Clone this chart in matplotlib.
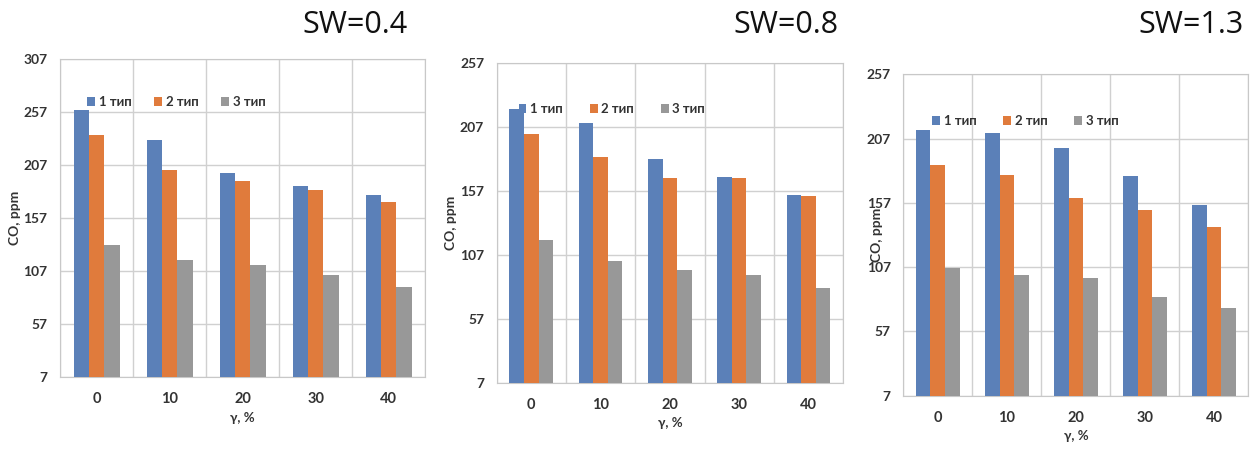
import matplotlib.pyplot as plt
import numpy as np

gamma = ["0", "10", "20", "30", "40"]
types = ["1 тип", "2 тип", "3 тип"]
titles = ["SW=0.4", "SW=0.8", "SW=1.3"]

# CO, ppm per panel: rows = тип 1..3, columns = gamma
sw04 = [[259, 231, 199.5, 187.5, 178.5],
        [235.5, 202.5, 192, 183, 172.5],
        [132, 117, 112.5, 103.5, 91.5]]
sw08 = [[221, 209.5, 181.5, 167.5, 153.5],
        [201, 183, 166.5, 166.5, 152.5],
        [118.5, 102, 95, 91, 81]]
sw13 = [[214, 211.5, 199.5, 177.5, 155],
        [186, 178.5, 161, 151, 138.5],
        [106, 100.5, 98.5, 83.5, 75]]
data = [sw04, sw08, sw13]
ytop = [307, 257, 257]

colors = ["#5B80B8", "#E07B3C", "#989898"]

plt.rcParams['font.family'] = ['Lato', 'DejaVu Sans']

fig = plt.figure(figsize=(12.51, 4.5), dpi=100)
# axes boxes [left, bottom, width, height]
boxes = [[0.048, 0.162, 0.292, 0.707],
         [0.397, 0.150, 0.277, 0.711],
         [0.722, 0.121, 0.276, 0.714]]
leg_pos = [(0.041, 0.865), (0.029, 0.855), (0.049, 0.853)]
colspace = [1.7, 2.0, 2.0]
ylabpad = [2, 2, -12]
title_x = [0.284, 0.628, 0.952]

x = np.arange(len(gamma))
w = 0.21
for k in range(3):
    ax = fig.add_axes(boxes[k])
    for i in range(3):
        ax.bar(x + (i - 1) * w, data[k][i], w, bottom=0, color=colors[i],
               label=types[i], zorder=3)
    ax.set_xlim(-0.5, 4.5)
    ax.set_ylim(7, ytop[k])
    ax.set_yticks(np.arange(7, ytop[k] + 1, 50))
    ax.set_xticks(x)
    ax.set_xticklabels(gamma)
    ax.set_xticks(np.arange(-0.5, 5, 1), minor=True)
    ax.grid(axis='y', color='#d0d0d0', lw=1, zorder=0)
    ax.grid(axis='x', which='minor', color='#d0d0d0', lw=1, zorder=0)
    ax.tick_params(which='both', length=0)
    ax.tick_params(axis='y', pad=9, labelsize=10)
    ax.tick_params(axis='x', pad=11, labelsize=10.5)
    for lab in ax.get_xticklabels() + ax.get_yticklabels():
        lab.set_fontweight('bold')
        lab.set_color('#333333')
    for s in ax.spines.values():
        s.set_color('#c8c8c8')
    ax.set_xlabel("γ, %", fontsize=9.5, fontweight='bold', color='#333333', labelpad=4)
    ax.set_ylabel("CO, ppm", fontsize=10, fontweight='bold', color='#333333',
                  labelpad=ylabpad[k])
    ax.legend(loc='center left', bbox_to_anchor=leg_pos[k], ncol=3, frameon=False,
              handlelength=0.6, handleheight=0.7, handletextpad=0.3,
              columnspacing=colspace[k], prop={'weight': 'bold', 'size': 9.5},
              labelcolor='#333333')
    fig.text(title_x[k], 0.945, titles[k], fontsize=22, family='Open Sans',
             ha='center', va='center', color='#111111')

fig.savefig("out.png", dpi=100, facecolor='white')
